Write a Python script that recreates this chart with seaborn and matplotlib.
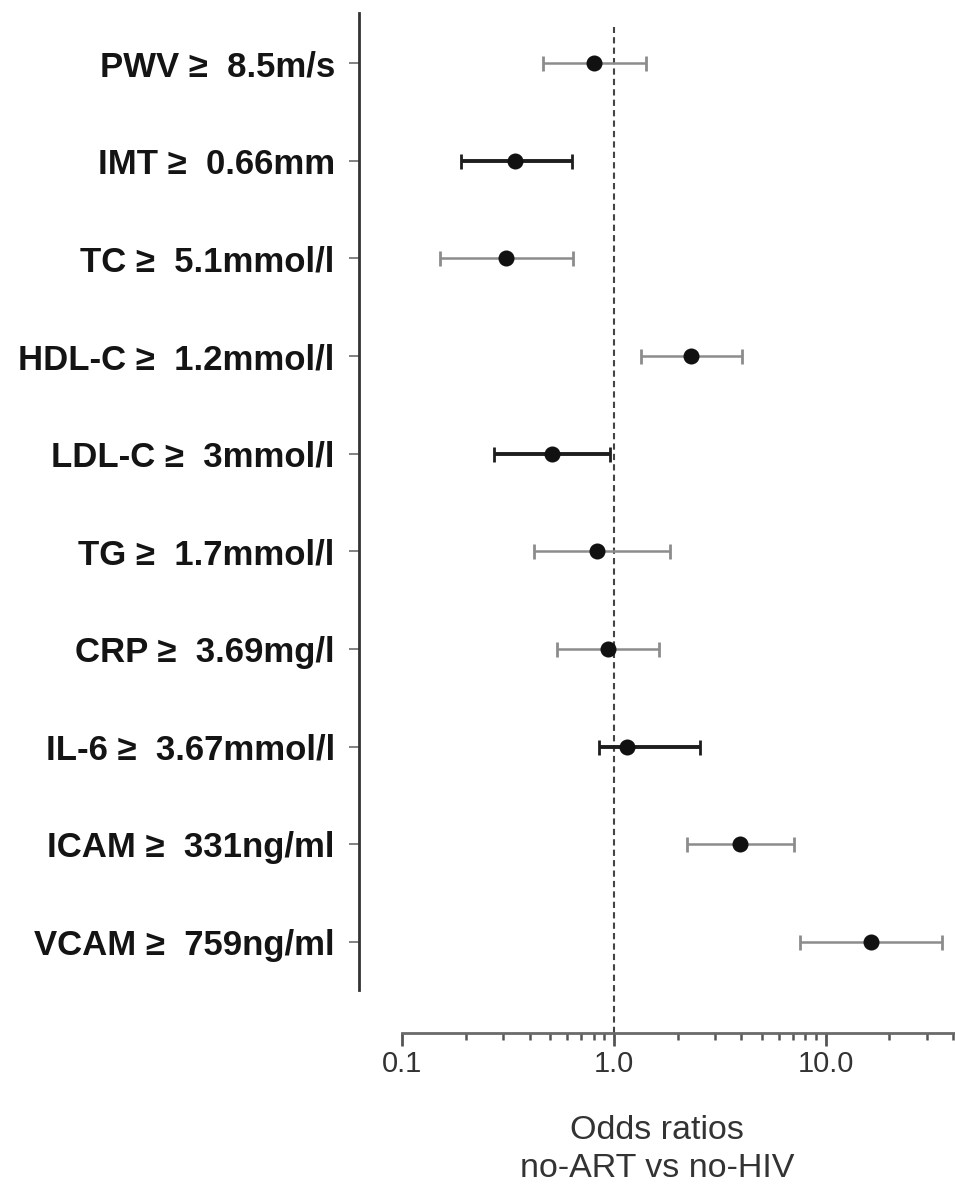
import numpy as np
import pandas as pd
import matplotlib
matplotlib.use("Agg")
import matplotlib.pyplot as plt
import matplotlib.ticker as mticker
import seaborn as sns

# ---- data ----
labels = [
    "PWV \u2265  8.5m/s",
    "IMT \u2265  0.66mm",
    "TC \u2265  5.1mmol/l",
    "HDL-C \u2265  1.2mmol/l",
    "LDL-C \u2265  3mmol/l",
    "TG \u2265  1.7mmol/l",
    "CRP \u2265  3.69mg/l",
    "IL-6 \u2265  3.67mmol/l",
    "ICAM \u2265  331ng/ml",
    "VCAM \u2265  759ng/ml",
]
odds = [0.80, 0.34, 0.31, 2.31, 0.51, 0.83, 0.94, 1.15, 3.95, 16.4]
ci_low = [0.46, 0.19, 0.15, 1.34, 0.27, 0.42, 0.54, 0.85, 2.22, 7.6]
ci_high = [1.41, 0.63, 0.64, 4.03, 0.96, 1.83, 1.63, 2.54, 7.1, 35.5]
heavy = [False, True, False, False, True, False, False, True, False, False]

major_ticks = [0.1, 1.0, 10.0]
major_labels = ["0.1", "1.0", "10.0"]
minor_ticks = [0.2, 0.3, 0.4, 0.5, 0.6, 0.7, 0.8, 0.9,
               2, 3, 4, 5, 6, 7, 8, 9, 20, 30, 40]

df = pd.DataFrame({"label": labels, "odds": odds,
                   "lo": ci_low, "hi": ci_high, "heavy": heavy})

# ---- style ----
sns.set_theme(style="white")
plt.rcParams["font.family"] = ["Liberation Sans", "DejaVu Sans"]

W, H = 955, 1187
fig = plt.figure(figsize=(W / 100, H / 100), dpi=100)
ax_left, ax_right = 358.7, 955.0
ax_top, ax_bot = 12.7, 990.0
ax = fig.add_axes([ax_left / W, 1 - ax_bot / H,
                   (ax_right - ax_left) / W, (ax_bot - ax_top) / H])
ax.set_xscale("log")

# error bars
for i, row in df.iterrows():
    if row["heavy"]:
        col, lw = "#1e1e1e", 2.8
    else:
        col, lw = "#8c8c8c", 1.8
    ax.errorbar(row["odds"], i,
                xerr=[[row["odds"] - row["lo"]], [row["hi"] - row["odds"]]],
                fmt="none", ecolor=col, elinewidth=lw,
                capsize=5.4, capthick=2.0, zorder=2)

# points
sns.pointplot(data=df, x="odds", y="label", orient="h", order=labels,
              linestyle="none", errorbar=None, color="#111111",
              markers="o", markersize=9.5, ax=ax, zorder=5)

ax.set_xlim(0.0622, 40.8)
ax.set_ylim(9.494, -0.518)

# reference line
ax.axvline(1.0, ymin=-0.044, ymax=0.9854, clip_on=False,
           color="#444444", lw=1.5, ls=(0, (3, 2)), zorder=1)

# spines
for s in ["top", "right"]:
    ax.spines[s].set_visible(False)
ax.spines["left"].set_color("#333333")
ax.spines["left"].set_linewidth(2.0)
ax.spines["bottom"].set_color("#6a6a6a")
ax.spines["bottom"].set_linewidth(2.0)
ax.spines["bottom"].set_position(("outward", 31))
ax.spines["bottom"].set_bounds(0.1, 40.8)

# ticks
ax.xaxis.set_major_locator(mticker.FixedLocator(major_ticks))
ax.xaxis.set_major_formatter(mticker.FixedFormatter(major_labels))
ax.xaxis.set_minor_locator(mticker.FixedLocator(minor_ticks))
ax.xaxis.set_minor_formatter(mticker.NullFormatter())
ax.tick_params(axis="x", which="major", direction="out", length=9.5,
               width=2.0, color="#555555", labelsize=21,
               labelcolor="#333333", pad=3, bottom=True)
ax.tick_params(axis="x", which="minor", direction="out", length=5,
               width=1.8, color="#555555", bottom=True)
ax.tick_params(axis="y", which="major", direction="out", length=7.2,
               width=1.3, color="#777777", labelsize=25,
               labelcolor="#141414", pad=10, left=True)
for t in ax.get_yticklabels():
    t.set_fontweight("bold")

ax.set_ylabel("")
ax.set_xlabel("Odds ratios\nno-ART vs no-HIV", fontsize=24.5,
              color="#333333", linespacing=1.28)
ax.xaxis.set_label_coords(0.5, -(1115 - ax_bot) / (ax_bot - ax_top))
ax.grid(False)

fig.savefig("out.png", dpi=100, facecolor="white")
